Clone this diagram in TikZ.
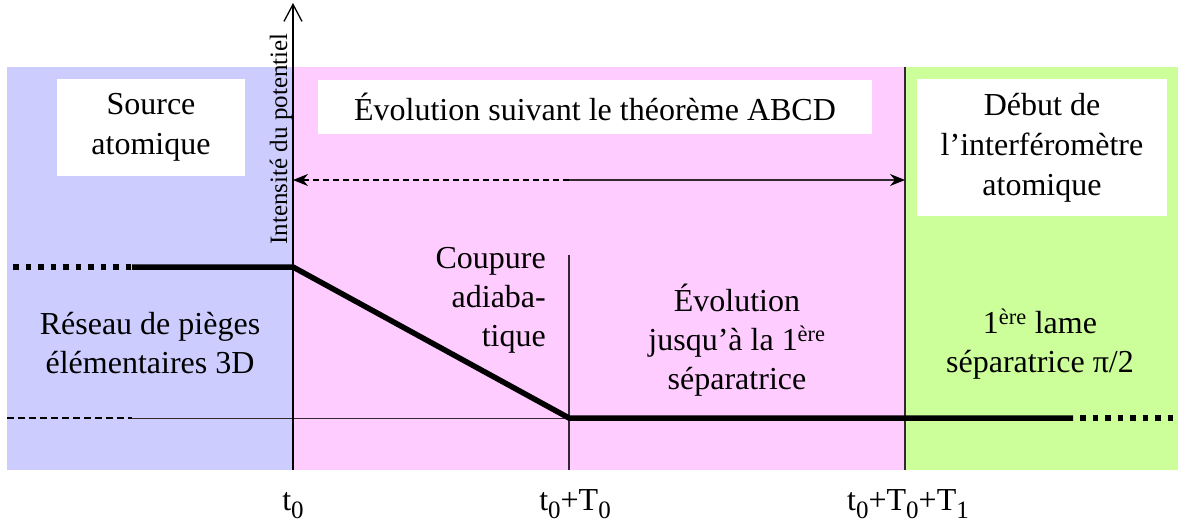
\documentclass[tikz,border=0pt]{standalone}
\usepackage{fontspec}
\setmainfont{Liberation Serif}
\usetikzlibrary{arrows.meta}
\definecolor{blueR}{RGB}{204,204,255}
\definecolor{pinkR}{RGB}{255,204,255}
\definecolor{greenR}{RGB}{204,255,153}
\definecolor{lineG}{RGB}{50,40,50}
\newcommand{\mysub}[1]{\raisebox{-8pt}{\fontsize{25}{25}\selectfont #1}}
\begin{document}
\begin{tikzpicture}[x=1pt,y=-1pt,
  txt/.style={font=\fontsize{32}{39}\selectfont, align=center, inner sep=0pt},
  whitebox/.style={fill=white, draw=none, inner sep=0pt, align=center, font=\fontsize{32}{40}\selectfont},
  heavyline/.style={line width=5.5pt, black},
  dotsq/.style={line width=5.5pt, black, dash pattern=on 5.5pt off 7pt},
  thinline/.style={line width=1pt, lineG},
  sepline/.style={line width=1.4pt, lineG},
  ticklabel/.style={font=\fontsize{32}{39}\selectfont, inner sep=0pt, anchor=base}
]
\useasboundingbox (0,0) rectangle (1185,530);
% regions
\fill[blueR] (7,67) rectangle (293,470);
\fill[pinkR] (293,67) rectangle (905,470);
\fill[greenR] (905,67) rectangle (1178,470);
% white boxes
\node[whitebox, minimum width=188pt, minimum height=97pt] (src) at (151,127.5) {Source\\atomique};
\node[whitebox, minimum width=554pt, minimum height=54pt] (abcd) at (595,107) {Évolution suivant le théorème ABCD};
\node[whitebox, minimum width=250pt, minimum height=137pt] (deb) at (1042,147.5) {Début de\\l'interféromètre\\atomique};
% coordinates
\coordinate (o) at (293,470);
\coordinate (ytop) at (293,3);
\coordinate (sepb) at (905,470);
\coordinate (sept) at (905,67);
\coordinate (t0b) at (569,470);
\coordinate (t0t) at (569,255);
\coordinate (arrL) at (293,180);
\coordinate (arrM) at (569,180);
\coordinate (arrR) at (905,180);
\coordinate (hiA) at (13,267);
\coordinate (hiB) at (132,267);
\coordinate (hiC) at (293,267);
\coordinate (loA) at (7,418);
\coordinate (loB) at (132,418);
\coordinate (loC) at (569,418);
\coordinate (loD) at (1073,418);
\coordinate (loE) at (1178,418);
% thin lines
\draw[sepline] (sepb) -- (sept);
\draw[sepline] (t0b) -- (t0t);
\draw[line width=1.4pt, black, dash pattern=on 7pt off 4pt] (loA) -- (loB);
\draw[thinline] (loB) -- (loC);
% double arrow
\draw[line width=1.3pt, black, dash pattern=on 6pt off 4pt, -{Stealth[length=15pt,width=12pt]}] (arrM) -- (arrL);
\draw[line width=1.3pt, lineG, -{Stealth[length=15pt,width=12pt,black]}] (arrM) -- (arrR);
% heavy potential line
\draw[dotsq] (hiA) -- (hiB);
\draw[heavyline, line join=miter] (hiB) -- (hiC) -- (loC) -- (loD);
\draw[dotsq] ([xshift=7pt]loD) -- (loE);
% axis
\draw[line width=1.3pt, black, -{Straight Barb[length=17pt,width=18pt]}] (o) -- (ytop);
\node[font=\fontsize{25}{30}\selectfont, rotate=90, inner sep=0pt] (ylab) at (281,139) {Intensité du potentiel};
% texts
\node[txt] (res) at (150,343) {Réseau de pièges\\élémentaires 3D};
\node[txt, align=right, anchor=east] (coup) at (546,300) {Coupure\\adiaba-\\tique};
\node[txt] (evo) at (737,340) {Évolution\\jusqu'à la 1\textsuperscript{ère}\\séparatrice};
\node[txt] (lame) at (1040,344) {1\textsuperscript{ère} lame\\séparatrice π/2};
% tick labels
\node[ticklabel] (l0) at (293,510) {t\mysub{0}};
\node[ticklabel] (l1) at (575,510) {t\mysub{0}+T\mysub{0}};
\node[ticklabel] (l2) at (908,510) {t\mysub{0}+T\mysub{0}+T\mysub{1}};
\end{tikzpicture}
\end{document}
